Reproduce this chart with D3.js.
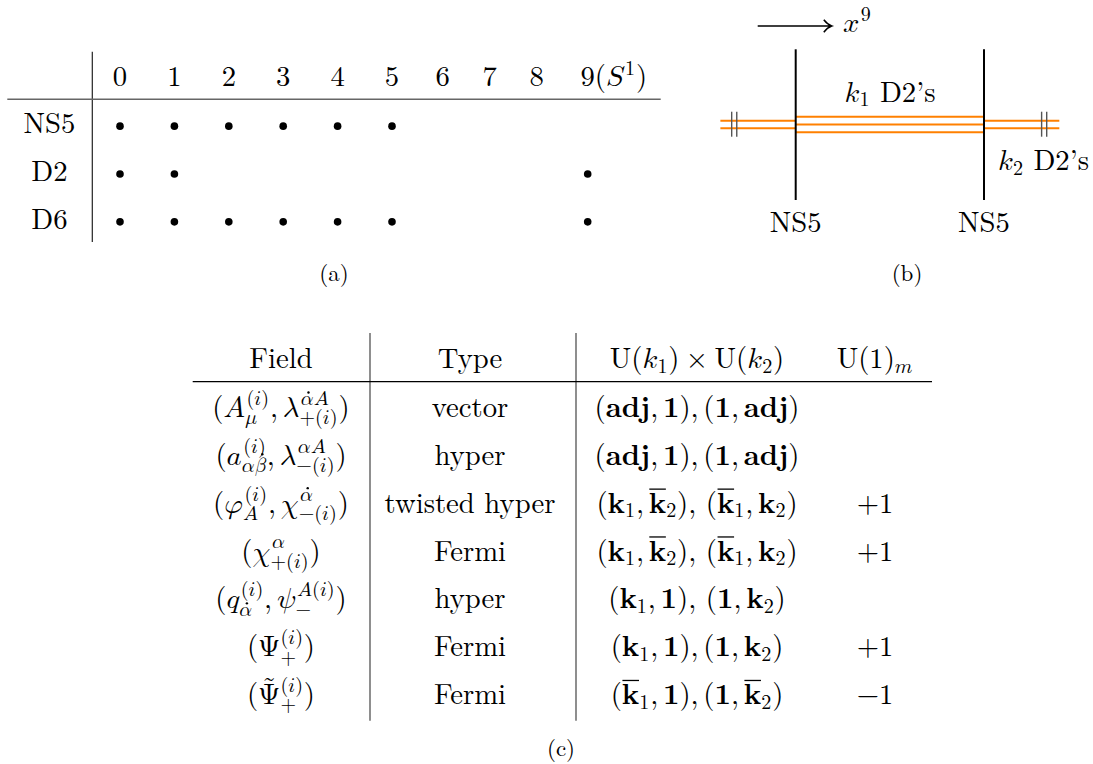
<!DOCTYPE html>
<html>
<head>
<meta charset="utf-8">
<script src="https://cdn.jsdelivr.net/npm/d3@7"></script>
<style>
  body { margin: 0; background: #fff; }
</style>
</head>
<body>
<svg id="fig" width="1093" height="764"></svg>
<script>
// --- dati (a): branes e direzioni occupate
const dimLabels = ['0', '1', '2', '3', '4', '5', '6', '7', '8', '9(S^{1})'];
const braneNames = ['NS5', 'D2', 'D6'];
const braneDims = [
  [0, 1, 2, 3, 4, 5],
  [0, 1, 9],
  [0, 1, 2, 3, 4, 5, 9]
];

// --- dati (b): configurazione di branes lungo x9
const ns5Positions = [0, 1];
const ns5Labels = ['NS5', 'NS5'];
const d2Segments = [[-0.4, 0], [0, 1], [1, 1.4]];
const d2Counts = [2, 3, 2];
const stackLabels = ['k_{1}\\r{ D2’s}', 'k_{2}\\r{ D2’s}'];

// --- dati (c): tabella dei campi
const fieldHeaders = ['\\r{Field}', '\\r{Type}', '\\r{U}(k_{1})~×~\\r{U}(k_{2})', '\\r{U}(1)_{m}'];
const fieldNames = [
  '(A_{μ}^{(i)}, λ^{\\d{α}A}_{+(i)})',
  '(a^{(i)}_{α\\d{β}}, λ^{αA}_{−(i)})',
  '(φ_{A}^{(i)}, χ^{\\d{α}}_{−(i)})',
  '(χ^{α}_{+(i)})',
  '(q^{(i)}_{\\d{α}}, ψ_{−}^{A(i)})',
  '(Ψ_{+}^{(i)})',
  '(\\t{Ψ}_{+}^{(i)})'
];
const fieldTypes = ['vector', 'hyper', 'twisted hyper', 'Fermi', 'hyper', 'Fermi', 'Fermi'];
const gaugeReps = [
  '(\\b{adj}, \\b{1}), (\\b{1}, \\b{adj})',
  '(\\b{adj}, \\b{1}), (\\b{1}, \\b{adj})',
  '(\\b{k}_{1}, \\o{k}_{2}),  (\\o{k}_{1}, \\b{k}_{2})',
  '(\\b{k}_{1}, \\o{k}_{2}),  (\\o{k}_{1}, \\b{k}_{2})',
  '(\\b{k}_{1}, \\b{1}),  (\\b{1}, \\b{k}_{2})',
  '(\\b{k}_{1}, \\b{1}), (\\b{1}, \\b{k}_{2})',
  '(\\o{k}_{1}, \\b{1}), (\\b{1}, \\o{k}_{2})'
];
const u1Charges = ['', '', '+1', '+1', '', '+1', '−1'];

const FONT = 28.7;
const CAP = 23;
const ROMAN = '"Latin Modern Roman", "Latin Modern Math", "Liberation Serif", serif';
const MATH = '"Latin Modern Math", "Latin Modern Roman", "Liberation Serif", serif';

const svg = d3.select('#fig');
svg.append('rect').attr('width', 1093).attr('height', 764).attr('fill', '#fff');

// controlla se un font è installato confrontando le larghezze
function hasFont(name) {
  const t = svg.append('text').style('font-size', '40px').text('abcdefgXYZ 0123');
  t.style('font-family', `"${name}", monospace`);
  const w1 = t.node().getComputedTextLength();
  t.style('font-family', 'monospace');
  const w2 = t.node().getComputedTextLength();
  t.remove();
  return Math.abs(w1 - w2) > 0.5;
}
const mathItalic = hasFont('Latin Modern Math');

function toMathItalic(s) {
  return Array.from(s).map(c => {
    const k = c.codePointAt(0);
    if (c === 'h') return '\u210E';
    if (k >= 65 && k <= 90) return String.fromCodePoint(0x1D434 + k - 65);
    if (k >= 97 && k <= 122) return String.fromCodePoint(0x1D44E + k - 97);
    if (k >= 0x3B1 && k <= 0x3C9) return String.fromCodePoint(0x1D6FC + k - 0x3B1);
    return c;
  }).join('');
}

// mini parser: _{..} ^{..} \b{} bold, \r{} roman, \o{} bold+barra, \d{} punto, \t{} tilde
function parseMath(s) {
  let i = 0;
  function seq(end) {
    const items = [];
    while (i < s.length && s[i] !== end) {
      const c = s[i];
      if (c === '\\') {
        const cmd = s[i + 1];
        i += 3;
        const inner = seq('}');
        i++;
        items.push({ kind: 'grp', cmd, items: inner });
      } else if (c === '_' || c === '^') {
        i++;
        let inner;
        if (s[i] === '{') { i++; inner = seq('}'); i++; }
        else { inner = [{ kind: 'ch', c: s[i] }]; i++; }
        let last = items[items.length - 1];
        if (!last || last.kind !== 'scr' || last[c]) { last = { kind: 'scr' }; items.push(last); }
        last[c] = inner;
      } else {
        items.push({ kind: 'ch', c });
        i++;
      }
    }
    return items;
  }
  return seq(null);
}

function mathText(parent, src, px, py, opts = {}) {
  const size = opts.size || FONT;
  const anchor = opts.anchor || 'middle';
  const g = parent.append('g');
  const items = parseMath(src);

  function put(txt, x, y, sz, st) {
    const t = g.append('text')
      .attr('x', x).attr('y', y)
      .style('font-size', sz + 'px')
      .style('white-space', 'pre')
      .attr('fill', '#000');
    if (st === 'it') {
      if (mathItalic) t.style('font-family', MATH).text(toMathItalic(txt));
      else t.style('font-family', ROMAN).style('font-style', 'italic').text(txt);
    } else if (st === 'gr') {
      t.style('font-family', MATH).text(txt);
    } else {
      t.style('font-family', ROMAN).text(txt);
      if (st === 'bf') t.style('font-weight', 'bold');
    }
    return t.node().getComputedTextLength();
  }

  let lastIt = false;
  function lay(list, x0, y, sz, ov) {
    let x = x0, run = null;
    const flush = () => {
      if (!run) return;
      x = run.x + put(run.text, run.x, y, sz, run.st);
      lastIt = run.st === 'it';
      run = null;
    };
    for (const it of list) {
      if (it.kind === 'ch') {
        if (ov !== 'rm' && (it.c === ' ' || it.c === '~')) {
          flush();
          x += sz * (it.c === ' ' ? 0.167 : 0.222);
          continue;
        }
        let st;
        if (/[\u0391-\u03A9]/.test(it.c)) st = 'gr';
        else st = ov || (/[A-Za-z\u03b1-\u03c9]/.test(it.c) ? 'it' : 'rm');
        if (run && run.st === st) run.text += it.c;
        else { flush(); run = { x, st, text: it.c }; }
      } else if (it.kind === 'grp') {
        flush();
        const a = x;
        if (it.cmd === 'b') x = lay(it.items, x, y, sz, 'bf');
        else if (it.cmd === 'r') x = lay(it.items, x, y, sz, 'rm');
        else if (it.cmd === 'o') {
          x = lay(it.items, x, y, sz, 'bf');
          g.append('line')
            .attr('x1', a + sz * 0.02).attr('x2', x - sz * 0.01)
            .attr('y1', y - sz * 0.82).attr('y2', y - sz * 0.82)
            .attr('stroke', '#000').attr('stroke-width', sz * 0.045);
        } else if (it.cmd === 'd') {
          const tall = /[βδθλ]/.test(it.items.map(d => d.c).join(''));
          x = lay(it.items, x, y, sz, ov);
          g.append('circle')
            .attr('cx', (a + x) / 2 + sz * (tall ? 0.1 : 0.06))
            .attr('cy', y - sz * (tall ? 0.9 : 0.62))
            .attr('r', sz * 0.06);
          lastIt = true;
        } else if (it.cmd === 't') {
          x = lay(it.items, x, y, sz, ov);
          g.append('text')
            .attr('x', (a + x) / 2).attr('y', y - sz * 0.26)
            .style('font-family', ROMAN).style('font-size', sz + 'px')
            .attr('text-anchor', 'middle')
            .text('\u02dc');
        }
      } else if (it.kind === 'scr') {
        flush();
        const ss = sz * 0.7, both = it['^'] && it['_'];
        const base = x, itb = lastIt;
        let e = x;
        if (it['^']) e = Math.max(e, lay(it['^'], base + (itb ? sz * 0.05 : 0), y - sz * (both ? 0.42 : 0.37), ss, ov));
        if (it['_']) e = Math.max(e, lay(it['_'], base, y + sz * (both ? 0.26 : 0.16), ss, ov));
        x = e + sz * 0.03;
        lastIt = false;
      }
    }
    flush();
    return x;
  }

  const w = lay(items, 0, 0, size, opts.style || null);
  const dx = anchor === 'middle' ? px - w / 2 : anchor === 'end' ? px - w : px;
  g.attr('transform', `translate(${dx},${py})`);
  return g;
}

// ================= (a) =================
const gA = svg.append('g').attr('class', 'table-a');
const colW = [54.4, 54.4, 54.4, 54.4, 54.4, 54.4, 47, 47, 47, 55];
const colLeft = 92.8;
const colCenters = colW.map((w, j) => colLeft + d3.sum(colW.slice(0, j)) + w / 2);
const xA = d3.scaleOrdinal().domain(d3.range(dimLabels.length)).range(colCenters);
const yA = d3.scalePoint().domain(['head', ...braneNames]).range([85.5, 229]);

gA.append('line').attr('x1', 92.3).attr('x2', 92.3).attr('y1', 51.7).attr('y2', 242)
  .attr('stroke', '#222').attr('stroke-width', 1.2);
gA.append('line').attr('x1', 7.3).attr('x2', 660.7).attr('y1', 99.3).attr('y2', 99.3)
  .attr('stroke', '#666').attr('stroke-width', 1.5);

dimLabels.forEach((lab, j) => {
  mathText(gA, lab, xA(j) - FONT * 0.25, yA('head'), { anchor: 'start' });
});

braneNames.forEach((name, r) => {
  mathText(gA, name, 49.5, yA(name), { style: 'rm' });
  gA.selectAll(`.dot-${name}`)
    .data(braneDims[r])
    .join('circle')
    .attr('class', `dot-${name}`)
    .attr('cx', d => xA(d))
    .attr('cy', yA(name) - FONT * 0.25)
    .attr('r', 3.8)
    .attr('fill', '#000');
});

mathText(svg, '(a)', 334, 281, { size: CAP, style: 'rm' });

// ================= (b) =================
const gB = svg.append('g').attr('class', 'branes');
const x9 = d3.scaleLinear().domain([0, 1]).range([795.7, 984]);
const stackY = 124.5, stackGap = 7.7;

// freccia x9
gB.append('path')
  .attr('d', 'M757.7,26 H831.2 M823.8,19.8 Q827.5,24.6 831.7,26 Q827.5,27.4 823.8,32.2')
  .attr('fill', 'none').attr('stroke', '#000').attr('stroke-width', 1.5);
mathText(gB, 'x^{9}', 843, 31.7, { anchor: 'start' });

// D2 arancioni
d2Segments.forEach((seg, s) => {
  const n = d2Counts[s];
  gB.selectAll(`.d2-${s}`)
    .data(d3.range(n))
    .join('line')
    .attr('class', `d2-${s}`)
    .attr('x1', x9(seg[0])).attr('x2', x9(seg[1]))
    .attr('y1', k => stackY + (k - (n - 1) / 2) * stackGap)
    .attr('y2', k => stackY + (k - (n - 1) / 2) * stackGap)
    .attr('stroke', '#ff8000').attr('stroke-width', 2);
});

// segni di identificazione (periodicità)
gB.selectAll('.tick-mark')
  .data([-0.34, -0.313, 1.306, 1.333])
  .join('line')
  .attr('class', 'tick-mark')
  .attr('x1', d => x9(d)).attr('x2', d => x9(d))
  .attr('y1', 111.7).attr('y2', 136.7)
  .attr('stroke', '#555').attr('stroke-width', 1.4);

// NS5 verticali
gB.selectAll('.ns5')
  .data(ns5Positions)
  .join('line')
  .attr('class', 'ns5')
  .attr('x1', d => x9(d)).attr('x2', d => x9(d))
  .attr('y1', 49.3).attr('y2', 200)
  .attr('stroke', '#000').attr('stroke-width', 2);

ns5Positions.forEach((p, i) => mathText(gB, ns5Labels[i], x9(p), 232, { style: 'rm' }));
mathText(gB, stackLabels[0], 890, 101.7);
mathText(gB, stackLabels[1], 998, 170, { anchor: 'start' });

mathText(svg, '(b)', 907, 281, { size: CAP, style: 'rm' });

// ================= (c) =================
const gC = svg.append('g').attr('class', 'table-c');
const colC = d3.scaleOrdinal().domain([0, 1, 2, 3]).range([281, 470, 697, 875]);
const yC = d3.scalePoint().domain(d3.range(fieldNames.length)).range([417, 704]);
const headY = 368;

gC.selectAll('.vsep')
  .data([370, 576])
  .join('line')
  .attr('class', 'vsep')
  .attr('x1', d => d).attr('x2', d => d)
  .attr('y1', 333).attr('y2', 720.7)
  .attr('stroke', '#444').attr('stroke-width', 1.2);
gC.append('line').attr('x1', 192.7).attr('x2', 932).attr('y1', 381.7).attr('y2', 381.7)
  .attr('stroke', '#000').attr('stroke-width', 1.3);

fieldHeaders.forEach((h, c) => mathText(gC, h, colC(c), headY));
fieldNames.forEach((f, r) => {
  mathText(gC, f, colC(0), yC(r));
  mathText(gC, fieldTypes[r], colC(1), yC(r), { style: 'rm' });
  mathText(gC, gaugeReps[r], colC(2), yC(r));
  if (u1Charges[r]) mathText(gC, u1Charges[r], colC(3), yC(r));
});

mathText(svg, '(c)', 561, 755.7, { size: CAP, style: 'rm' });
</script>
</body>
</html>
